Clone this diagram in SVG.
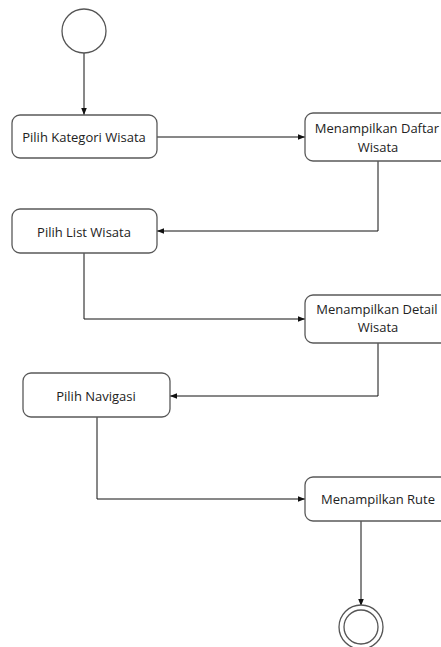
<svg xmlns="http://www.w3.org/2000/svg" width="441" height="647" viewBox="0 0 441 647">
<style>
.box{fill:#fff;stroke:#595959;stroke-width:1.3}
.t{font-family:"Open Sans","Noto Sans",sans-serif;font-size:13px;fill:#222;text-anchor:middle}
.c{fill:none;stroke:#111;stroke-width:1}
.circ{fill:#fff;stroke:#555;stroke-width:1.3}
</style>
<defs>
<marker id="ah" viewBox="0 0 10 10" refX="10" refY="5" markerWidth="7" markerHeight="7" orient="auto" markerUnits="userSpaceOnUse">
<path d="M0,1 L10,5 L0,9 z" fill="#111"/>
</marker>
</defs>
<rect width="441" height="647" fill="#fff"/>
<g id="connectors">
<path class="c" d="M84,53 V115" marker-end="url(#ah)"/>
<path class="c" d="M157,137 H305" marker-end="url(#ah)"/>
<path class="c" d="M378,161 V231 H157" marker-end="url(#ah)"/>
<path class="c" d="M84,253 V319 H305" marker-end="url(#ah)"/>
<path class="c" d="M378,343 V396 H170" marker-end="url(#ah)"/>
<path class="c" d="M97,417 V499 H305" marker-end="url(#ah)"/>
<path class="c" d="M361,521 V606" marker-end="url(#ah)"/>
</g>
<g id="start"><circle class="circ" cx="84" cy="31" r="22"/></g>
<g id="n1"><rect class="box" x="12" y="115" width="145" height="43" rx="8"/><text class="t" x="84" y="142">Pilih Kategori Wisata</text></g>
<g id="n2"><rect class="box" x="305" y="113" width="146" height="48" rx="8"/><text class="t" x="377" y="133">Menampilkan Daftar</text><text class="t" x="378" y="152">Wisata</text></g>
<g id="n3"><rect class="box" x="12" y="209" width="145" height="44" rx="8"/><text class="t" x="84" y="237">Pilih List Wisata</text></g>
<g id="n4"><rect class="box" x="305" y="295" width="146" height="48" rx="8"/><text class="t" x="377" y="314">Menampilkan Detail</text><text class="t" x="378" y="332">Wisata</text></g>
<g id="n5"><rect class="box" x="23" y="373" width="147" height="44" rx="8"/><text class="t" x="96" y="401">Pilih Navigasi</text></g>
<g id="n6"><rect class="box" x="305" y="477" width="146" height="44" rx="8"/><text class="t" x="378" y="504">Menampilkan Rute</text></g>
<g id="end"><circle class="circ" cx="361" cy="627" r="22"/><circle class="circ" cx="361" cy="627" r="17"/></g>
</svg>
